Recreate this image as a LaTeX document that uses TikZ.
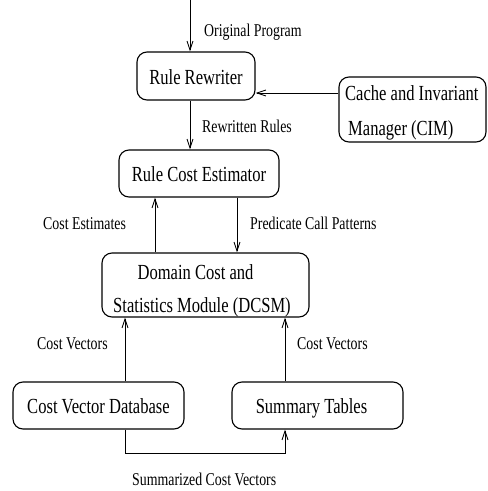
\documentclass[tikz,border=0pt]{standalone}
\usepackage{fontspec}
\setmainfont{Liberation Serif}[FakeStretch=0.77]
\usetikzlibrary{arrows.meta}
\newcommand\bxfont{\fontsize{21.5}{26}\selectfont}
\newcommand\lbfont{\fontsize{18}{22}\selectfont}
\begin{document}
\begin{tikzpicture}[x=1pt,y=-1pt,
  box/.style={draw, rounded corners=10pt, line width=1.1pt, inner sep=0pt,
    text height=16pt, text depth=0pt, font=\bxfont},
  btxt/.style={font=\bxfont, inner sep=0pt, anchor=base},
  lab/.style={font=\lbfont, inner sep=0pt, anchor=base west},
  arr/.style={line width=0.9pt, -{Straight Barb[length=9pt,width=6pt]}}]
\useasboundingbox (0,0) rectangle (488,491);

% boxes
\node[box, minimum width=118pt, minimum height=48pt] (rr) at (196,76) {Rule Rewriter};
\node[box, minimum width=147pt, minimum height=65pt] (cim) at (412.5,109.5) {};
\node[box, minimum width=160pt, minimum height=47pt] (rce) at (199,173.5) {Rule Cost Estimator};
\node[box, minimum width=207pt, minimum height=64pt] (dcsm) at (205.5,285) {};
\node[box, minimum width=171pt, minimum height=47pt] (cvd) at (98.5,405.5) {Cost Vector Database};
\node[box, minimum width=171pt, minimum height=47pt] (st) at (317.5,405.5) {Summary Tables\hspace*{12pt}};

% two-line box texts
\node[btxt, anchor=base west] (cim1) at (345,100) {Cache and Invariant};
\node[btxt, anchor=base west] (cim2) at (348,135) {Manager (CIM)};
\node[btxt] (d1) at (195.5,279) {Domain Cost and};
\node[btxt] (d2) at (202,312) {Statistics Module (DCSM)};

% helper coordinates
\coordinate (in) at (190,0);
\coordinate (cimy) at (0,93);
\coordinate (xa) at (155,0);
\coordinate (xb) at (237,0);
\coordinate (xc) at (125,0);
\coordinate (xd) at (285,0);
\coordinate (yb) at (0,453);

% connectors
\draw[arr] (in) -- (in |- rr.north);
\draw[arr] (cim.west |- cimy) -- (rr.east |- cimy);
\draw[arr] (rr.south -| in) -- (rce.north -| in);
\draw[arr] (dcsm.north -| xa) -- (rce.south -| xa);
\draw[arr] (rce.south -| xb) -- (dcsm.north -| xb);
\draw[arr] (cvd.north -| xc) -- (dcsm.south -| xc);
\draw[arr] (st.north -| xd) -- (dcsm.south -| xd);
\draw[arr] (cvd.south -| xc) -- (xc |- yb) -- (xd |- yb) -- (st.south -| xd);

% labels
\node[lab] (l1) at (204,36) {Original Program};
\node[lab] (l2) at (202,132) {Rewritten Rules};
\node[lab] (l3) at (43,229) {Cost Estimates};
\node[lab] (l4) at (250,229) {Predicate Call Patterns};
\node[lab] (l5) at (37,349) {Cost Vectors};
\node[lab] (l6) at (297,349) {Cost Vectors};
\node[lab] (l7) at (132,485) {Summarized Cost Vectors};
\end{tikzpicture}
\end{document}
